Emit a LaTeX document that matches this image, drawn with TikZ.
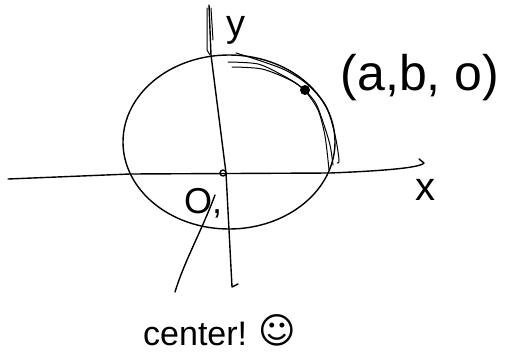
\documentclass[tikz,border=0pt]{standalone}
\usepackage{fontspec}
\setmainfont{Liberation Sans}
\newfontfamily\symfont{DejaVu Sans}
\begin{document}
\begin{tikzpicture}[x=1pt,y=-1pt,
  pen/.style={line width=1.4pt,line cap=round,line join=round},
  thin pen/.style={line width=1pt,line cap=round,line join=round},
  hand/.style={inner sep=0pt,font=\fontsize{34}{36}\selectfont}]
\useasboundingbox (0,0) rectangle (510,356);
% circle
\draw[pen] (229,142) ellipse [x radius=106, y radius=87];
% x axis
\coordinate (xl) at (8,179);
\coordinate (xr) at (424,163);
\draw[pen] (xl) -- (130,174) -- (330,173) .. controls (380,171) and (420,168) .. (xr) -- (419,159);
% y axis
\coordinate (yt) at (209,5);
\coordinate (yb) at (232,287);
\draw[pen] (yt) -- (211,55) -- (226,173) -- (yb) -- (238,284);
\draw[thin pen] (207,8) -- (207,50) -- (210,55);
\draw[thin pen] (211,8) -- (213,40);
% origin
\node[draw,circle,pen,minimum size=6pt,inner sep=0pt] (o) at (223,173) {};
% traced arcs
\draw[thin pen] plot[smooth] coordinates {(228,62) (258,64) (282,75) (300,86) (315,102) (323,122) (330,145) (333,165)};
\draw[thin pen] plot[smooth] coordinates {(232,67) (262,69) (290,80) (305,91) (318,110) (325,136) (329,170)};
\draw[thin pen] plot[smooth] coordinates {(236,53) (258,60) (285,70) (307,84) (326,106) (335,135) (339,160) (337,163)};
% point
\node[fill,circle,inner sep=0pt,minimum size=10pt] (p) at (305,90) {};
% labels
\node[hand,font=\fontsize{38}{40}\selectfont] (ylab) at (236,30) {y};
\node[hand,font=\fontsize{40}{42}\selectfont] (xlab) at (425,190) {x};
\node[hand,font=\fontsize{50}{52}\selectfont] (plab) at (420,78) {(a,b, o)};
\node[hand,font=\fontsize{36}{38}\selectfont] (olab) at (203,203) {O,};
\node[hand,anchor=base west] (clab) at (143,345) {center!};
\node[hand,font=\fontsize{36}{38}\symfont] (smile) at (277,330) {☺};
\coordinate (ptr) at (175,292);
\draw[pen] (215,195) .. controls (202,230) and (184,262) .. (ptr);
\end{tikzpicture}
\end{document}
